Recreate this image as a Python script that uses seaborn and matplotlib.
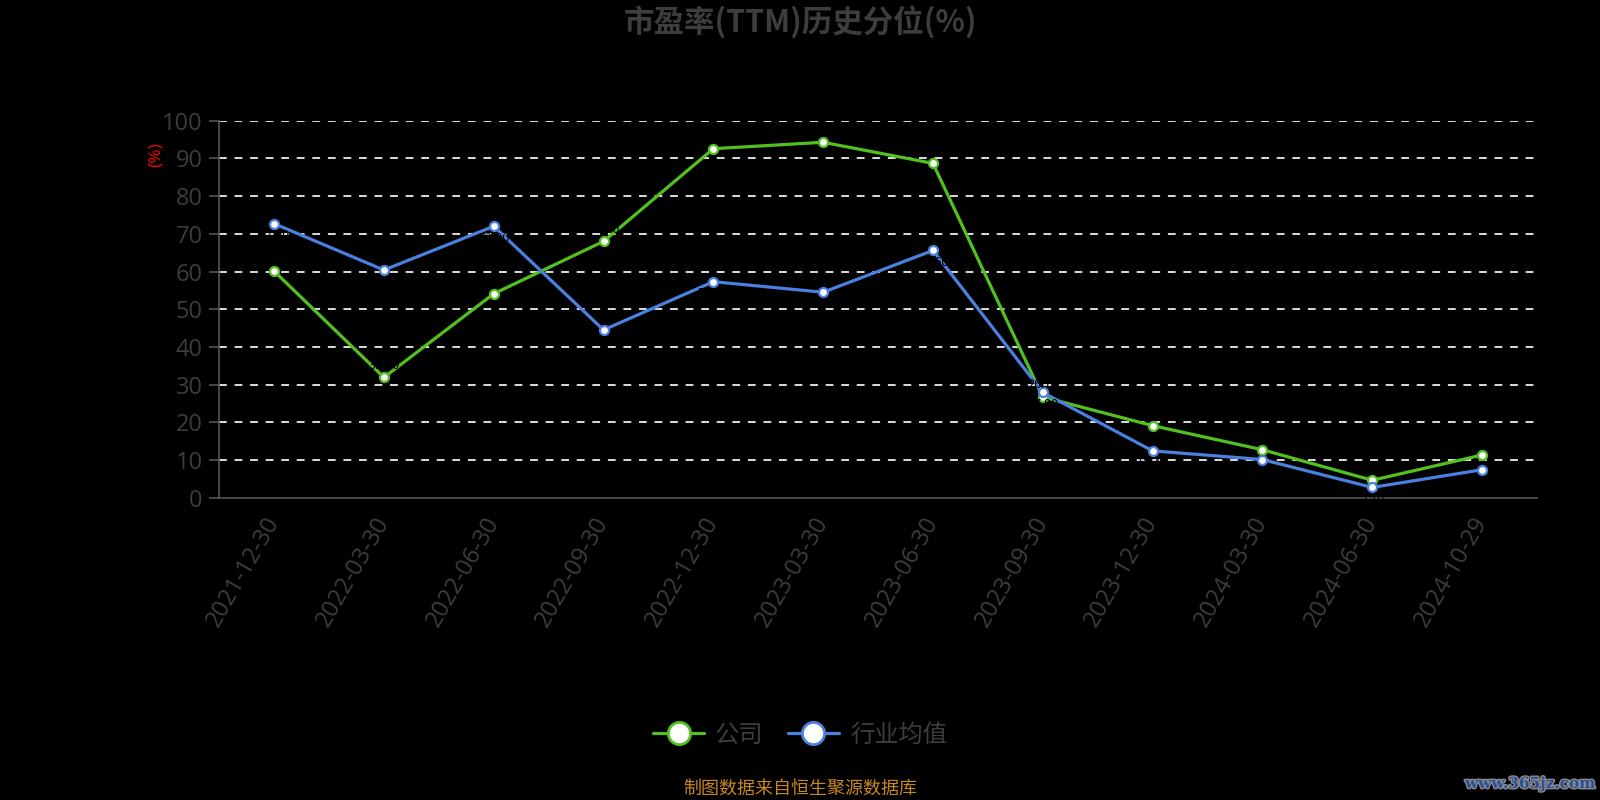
import pandas as pd
import numpy as np
import matplotlib
matplotlib.use("Agg")
import matplotlib.pyplot as plt
import matplotlib.patheffects as pe
from matplotlib.ticker import FixedLocator
from matplotlib.lines import Line2D
import seaborn as sns

dates = ['2021-12-30', '2022-03-30', '2022-06-30', '2022-09-30', '2022-12-30', '2023-03-30',
         '2023-06-30', '2023-09-30', '2023-12-30', '2024-03-30', '2024-06-30', '2024-10-29']
company = [60.1, 31.9, 54.1, 68.0, 92.6, 94.3, 88.7, 26.7, 19.1, 12.7, 4.6, 11.3]
industry = [72.7, 60.4, 72.0, 44.5, 57.3, 54.5, 65.6, 27.9, 12.4, 10.1, 2.7, 7.4]
series_names = ['公司', '行业均值']
yticks = [0, 10, 20, 30, 40, 50, 60, 70, 80, 90, 100]

green = '#52c11f'
blue = '#4a80e0'
axis_grey = '#555555'
text_grey = '#3d3d3d'
num_font = ['Open Sans', 'Noto Sans CJK SC', 'DejaVu Sans']

sns.set_style('dark')
plt.rcParams['font.family'] = ['Noto Sans CJK SC', 'DejaVu Sans']
plt.rcParams['axes.unicode_minus'] = False

df = pd.DataFrame({'idx': np.arange(len(dates)), 'date': dates,
                   series_names[0]: company, series_names[1]: industry})

fig = plt.figure(figsize=(16, 8), dpi=100, facecolor='black')
ax = fig.add_axes([0.137, 0.378, 0.8236, 0.471])
ax.set_facecolor('black')

for k, (name, col) in enumerate(zip(series_names, [green, blue])):
    sns.lineplot(data=df, x='idx', y=name, ax=ax, color=col, linewidth=2.3,
                 marker='o', markersize=6.5, markerfacecolor='white',
                 markeredgecolor=col, markeredgewidth=1.6, label=name, zorder=3)
    # data labels are black on black in the original
    for i, v in enumerate(df[name]):
        if k == 0:
            ax.text(i, v + 1.5, f'{v:.2f}', color='black', fontsize=9,
                    ha='center', va='bottom', zorder=4)
        else:
            ax.text(i, v - 1.5, f'{v:.2f}', color='black', fontsize=9,
                    ha='center', va='top', zorder=4)

ax.set_xlim(-0.5, len(dates) - 0.5)
ax.set_ylim(0, 100)
ax.set_yticks(yticks)
ax.set_yticklabels([str(t) for t in yticks], family=num_font)

# category axis: ticks on boundaries, labels in the middle
ax.xaxis.set_major_locator(FixedLocator(np.arange(len(dates))))
ax.set_xticklabels(dates, rotation=60, ha='right', va='center', rotation_mode='anchor',
                   family=num_font)
ax.xaxis.set_minor_locator(FixedLocator(np.arange(-0.5, len(dates), 1.0)))
ax.tick_params(axis='x', which='major', length=0, pad=15, labelsize=17, labelcolor=text_grey)
ax.tick_params(axis='x', which='minor', length=6, width=1.2, color=axis_grey, direction='out')
ax.tick_params(axis='y', length=7, width=1.2, color=axis_grey, labelsize=17,
               labelcolor=text_grey, pad=5, direction='out', left=True)

ax.grid(False)
for t in yticks[1:]:
    ax.axhline(t, color='#dddddd', linewidth=1.4, linestyle=(0, (4, 4)), zorder=1)

for side in ['top', 'right']:
    ax.spines[side].set_visible(False)
for side in ['left', 'bottom']:
    ax.spines[side].set_visible(True)
    ax.spines[side].set_color(axis_grey)
    ax.spines[side].set_linewidth(1.2)

ax.set_xlabel('')
ax.set_ylabel('')
ax.legend_.remove()

fig.text(156 / 1600, 1 - 155 / 800, '(%)', color='red', fontsize=12.5, rotation=90,
         ha='center', va='center', family=num_font)

fig.text(0.5, 1 - 22 / 800, '市盈率(TTM)历史分位(%)', color=text_grey, fontsize=22,
         fontweight='bold', ha='center', va='center')

leg_handles = [Line2D([0], [0], color=c, linewidth=2.3, marker='o', markersize=16,
                      markerfacecolor='white', markeredgecolor=c, markeredgewidth=2)
               for c in [green, blue]]
fig.legend(leg_handles, series_names, loc='center', bbox_to_anchor=(0.5, 1 - 735 / 800),
           ncol=2, frameon=False, fontsize=17.5, labelcolor=text_grey, handlelength=2.1,
           columnspacing=1.0, handletextpad=0.45)

fig.text(0.5, 1 - 789 / 800, '制图数据来自恒生聚源数据库', color='#c8861e', fontsize=13,
         ha='center', va='center')

fig.text(0.997, 1 - 784 / 800, 'www.365jz.com', color='#2a4f9a', fontsize=11,
         fontweight='bold', ha='right', va='center', family=['DejaVu Serif'],
         path_effects=[pe.withStroke(linewidth=2, foreground='#8a8a8a')])

fig.savefig('out.png', dpi=100, facecolor='black')
